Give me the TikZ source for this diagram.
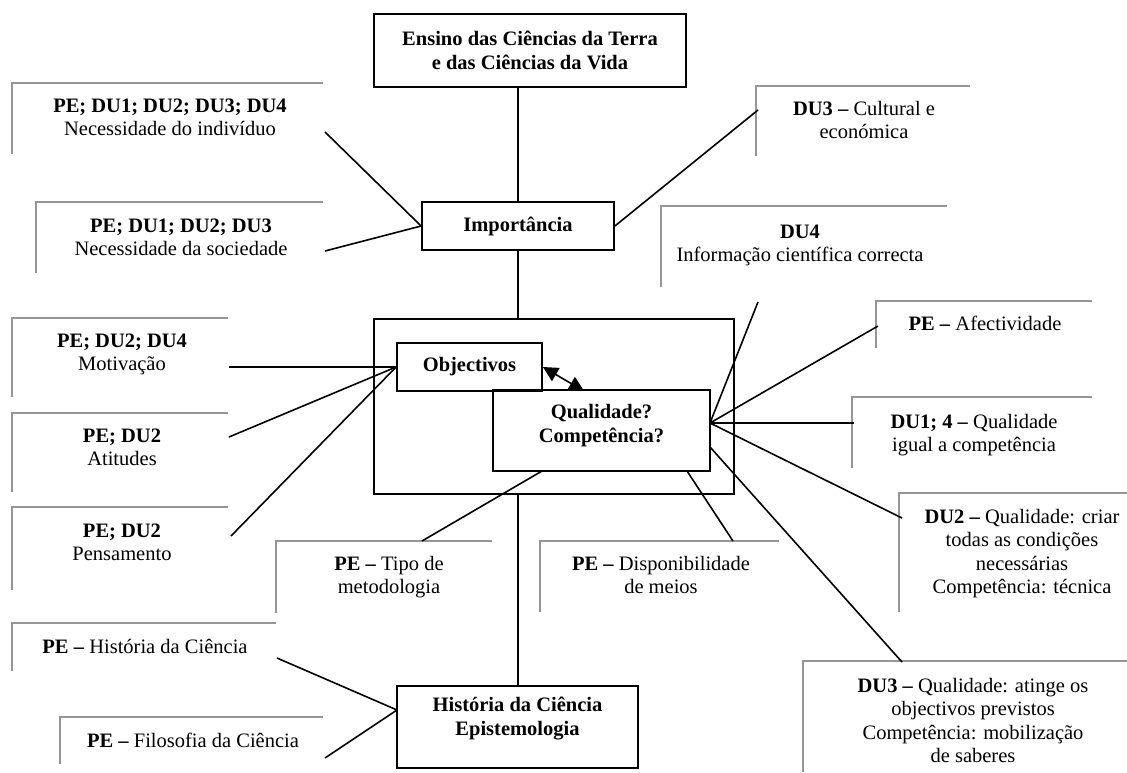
\documentclass[tikz,border=0pt]{standalone}
\usepackage{fontspec}
\setmainfont{Liberation Serif}
\usetikzlibrary{arrows.meta}
\definecolor{lgray}{RGB}{150,150,150}
\begin{document}
\begin{tikzpicture}[x=1pt,y=-1pt,
  mainbox/.style={draw=black, line width=1.8pt, align=center, inner sep=0pt,
    font=\fontsize{20.5}{23.5}\selectfont\bfseries},
  lab/.style={font=\fontsize{20.5}{23.5}\selectfont, anchor=base, inner sep=0pt},
  bracket/.style={draw=lgray, line width=1.7pt},
  conn/.style={line width=1.6pt},
  trunk/.style={line width=2.2pt},
  tipx/.tip={Triangle[length=15pt,width=15pt]}]
\fill[white] (0,0) rectangle (1127,772);
\useasboundingbox (0,0) rectangle (1127,772);

% main boxes
\node[mainbox, minimum width=312pt, minimum height=73pt] (ensino) at (530,50.5)
  {Ensino das Ciências da Terra\\e das Ciências da Vida};
\node[mainbox, minimum width=192pt, minimum height=48pt] (imp) at (518,226) {Importância};
\node[draw=black, line width=1.8pt, minimum width=360pt, minimum height=175pt, inner sep=0pt] (big) at (554,406.5) {};
\node[mainbox, minimum width=145pt, minimum height=48pt] (obj) at (469.5,367) {Objectivos};
\node[mainbox, minimum width=217pt, minimum height=81pt] (qual) at (601.5,430.5)
  {\begin{tabular}{@{}c@{}}Qualidade?\\Competência?\\[9pt]\end{tabular}};
\node[mainbox, minimum width=241pt, minimum height=82pt] (hist) at (517.5,727)
  {\begin{tabular}{@{}c@{}}História da Ciência\\Epistemologia\\[16pt]\end{tabular}};

% label brackets
\draw[bracket] (323,83) -- (12,83) -- (12,154);
\draw[bracket] (323,202) -- (36,202) -- (36,273);
\draw[bracket] (970,86) -- (756,86) -- (756,156);
\draw[bracket] (947,206) -- (661,206) -- (661,287);
\draw[bracket] (228,318) -- (12,318) -- (12,397);
\draw[bracket] (228,413) -- (12,413) -- (12,492);
\draw[bracket] (228,507) -- (12,507) -- (12,590);
\draw[bracket] (492,541) -- (276,541) -- (276,613);
\draw[bracket] (779,541) -- (540,541) -- (540,612);
\draw[bracket] (1092,301) -- (876,301) -- (876,348);
\draw[bracket] (1092,397) -- (852,397) -- (852,468);
\draw[bracket] (1127,493) -- (899,493) -- (899,612);
\draw[bracket] (1127,661) -- (803,661) -- (803,772);
\draw[bracket] (276,623) -- (12,623) -- (12,671);
\draw[bracket] (323,717) -- (60,717) -- (60,764);

% label texts
\node[lab] (t1) at (170,112) {\begin{tabular}[t]{@{}c@{}}\textbf{PE; DU1; DU2; DU3; DU4}\\Necessidade do indivíduo\end{tabular}};
\node[lab] (t2) at (181,232) {\begin{tabular}[t]{@{}c@{}}\textbf{PE; DU1; DU2; DU3}\\Necessidade da sociedade\end{tabular}};
\node[lab] (t3) at (864,115) {\begin{tabular}[t]{@{}c@{}}\textbf{DU3 –} Cultural e\\económica\end{tabular}};
\node[lab] (t4) at (800,238) {\begin{tabular}[t]{@{}c@{}}\textbf{DU4}\\Informação científica correcta\end{tabular}};
\node[lab] (t5) at (122,347) {\begin{tabular}[t]{@{}c@{}}\textbf{PE; DU2; DU4}\\Motivação\end{tabular}};
\node[lab] (t6) at (122,442) {\begin{tabular}[t]{@{}c@{}}\textbf{PE; DU2}\\Atitudes\end{tabular}};
\node[lab] (t7) at (122,537) {\begin{tabular}[t]{@{}c@{}}\textbf{PE; DU2}\\Pensamento\end{tabular}};
\node[lab] (t8) at (389,570) {\begin{tabular}[t]{@{}c@{}}\textbf{PE –} Tipo de\\metodologia\end{tabular}};
\node[lab] (t9) at (661,570) {\begin{tabular}[t]{@{}c@{}}\textbf{PE –} Disponibilidade\\de meios\end{tabular}};
\node[lab] (t10) at (985,330) {\textbf{PE –} Afectividade};
\node[lab] (t11) at (974,428) {\begin{tabular}[t]{@{}c@{}}\textbf{DU1; 4 –} Qualidade\\igual a competência\end{tabular}};
\node[lab] (t12) at (1022,523) {\begin{tabular}[t]{@{}c@{}}\textbf{DU2 –} Qualidade: criar\\todas as condições\\necessárias\\Competência: técnica\end{tabular}};
\node[lab] (t13) at (973,692) {\begin{tabular}[t]{@{}c@{}}\textbf{DU3 –} Qualidade: atinge os\\objectivos previstos\\Competência: mobilização\\de saberes\end{tabular}};
\node[lab] (t14) at (145,653) {\textbf{PE –} História da Ciência};
\node[lab] (t15) at (193,747) {\textbf{PE –} Filosofia da Ciência};

% connector end points
\coordinate (c1) at (325,132);
\coordinate (c2) at (325,251);
\coordinate (c3) at (758,110);
\coordinate (c4) at (758,302);
\coordinate (c5) at (229,367);
\coordinate (c6) at (229,437);
\coordinate (c7) at (231,536);
\coordinate (c8) at (422,541);
\coordinate (c9) at (733,541);
\coordinate (c10) at (878,326);
\coordinate (c11) at (854,423);
\coordinate (c12) at (902,518);
\coordinate (c13) at (902,662);
\coordinate (c14) at (277,658);
\coordinate (c15) at (325,758);
\coordinate (qhub) at (710,423);
\coordinate (qlow) at (710,447);
\coordinate (qb1) at (542,471);
\coordinate (qb2) at (687,471);
\coordinate (qa) at (584,391);
\coordinate (hw) at (397,710);

% trunk
\draw[trunk] (imp.north |- ensino.south) -- (imp.north);
\draw[trunk] (imp.south) -- (imp.south |- big.north);
\draw[trunk] (imp.south |- big.south) -- (imp.south |- hist.north);

% connectors
\draw[conn] (c1) -- (imp.west);
\draw[conn] (c2) -- (imp.west);
\draw[conn] (imp.east) -- (c3);
\draw[conn] (c5) -- (obj.west);
\draw[conn] (c6) -- (obj.west);
\draw[conn] (c7) -- (obj.west);
\draw[conn] (qhub) -- (c4);
\draw[conn] (qhub) -- (c10);
\draw[conn] (qhub) -- (c11);
\draw[conn] (qhub) -- (c12);
\draw[conn] (qlow) -- (c13);
\draw[conn] (qb2) -- (c9);
\draw[conn] (qb1) -- (c8);
\draw[conn] (c14) -- (hw);
\draw[conn] (c15) -- (hw);
\draw[conn, tipx-tipx] (obj.east) -- (qa);
\end{tikzpicture}
\end{document}
